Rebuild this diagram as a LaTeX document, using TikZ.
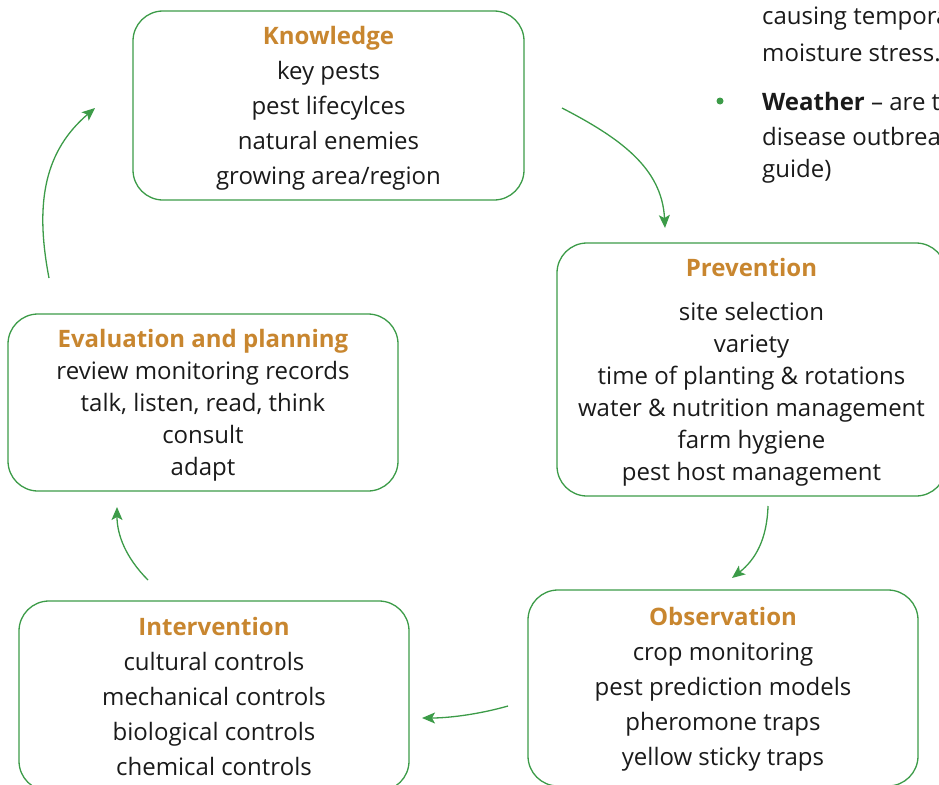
\documentclass[tikz,border=0pt]{standalone}
\usepackage{fontspec}
\setmainfont{Open Sans}
\usepackage{tikz}
\usetikzlibrary{arrows.meta}
\definecolor{ipmgreen}{HTML}{3C9B48}
\definecolor{ipmorange}{HTML}{C8862F}
\definecolor{ipmtext}{HTML}{1A1A1A}
\newcommand{\stagehead}[1]{\textbf{\color{ipmorange}#1}}

\begin{document}
\begin{tikzpicture}[x=1pt, y=-1pt,
    stage/.style={rectangle, draw=ipmgreen, line width=1.3pt, rounded corners=30pt,
      inner sep=0pt, align=center, text=ipmtext, text depth=0pt, font=\fontsize{24}{35}\selectfont},
    cycle/.style={draw=ipmgreen, line width=1.3pt, -{Stealth[length=13pt, width=11pt, inset=3pt]}},
    sidetext/.style={anchor=west, inner sep=0pt, text=ipmtext, font=\fontsize{24}{35}\selectfont}]

        \useasboundingbox (0,0) rectangle (939,784);
        \clip (0,0) rectangle (939,784);

        % Stages of the cycle
        \node[stage, minimum width=391pt, minimum height=189pt] (know) at (328.5,105.5)
        {\stagehead{Knowledge}\\ key pests\\ pest lifecylces\\ natural enemies\\ growing area/region};

        \node[stage, minimum width=389pt, minimum height=253pt, font=\fontsize{24}{32}\selectfont] (prevent) at (751.5,369.5)
        {\stagehead{Prevention}\\[12pt] site selection\\ variety\\ time of planting \& rotations\\ water \& nutrition management\\ farm hygiene\\ pest host management};

        \node[stage, minimum width=390pt, minimum height=196pt, text depth=4pt] (observe) at (723,688)
        {\stagehead{Observation}\\ crop monitoring\\ pest prediction models\\ pheromone traps\\ yellow sticky traps};

        \node[stage, minimum width=390pt, minimum height=190pt] (intervene) at (214,696)
        {\stagehead{Intervention}\\ cultural controls\\ mechanical controls\\ biological controls\\ chemical controls};

        \node[stage, minimum width=390pt, minimum height=177pt, font=\fontsize{24}{32}\selectfont] (evaluate) at (203,402.5)
        {\stagehead{Evaluation and planning}\\ review monitoring records\\ talk, listen, read, think\\ consult\\ adapt};

        % Arrow ends
        \coordinate (k-out) at (562,108);
        \coordinate (p-in) at (665,228);
        \coordinate (p-out) at (768,506);
        \coordinate (o-in) at (732,578);
        \coordinate (o-out) at (508,706);
        \coordinate (i-in) at (422,718);
        \coordinate (i-out) at (148,580);
        \coordinate (e-in) at (117,507);
        \coordinate (e-out) at (49,278);
        \coordinate (k-in) at (95,108);

        % Arrows
        \draw[cycle] (k-out) .. controls (620,138) and (662,168) .. (p-in);
        \draw[cycle] (p-out) .. controls (767,540) and (755,560) .. (o-in);
        \draw[cycle] (o-out) .. controls (480,714) and (450,718) .. (i-in);
        \draw[cycle] (i-out) .. controls (126,558) and (117,535) .. (e-in);
        \draw[cycle] (e-out) .. controls (34,200) and (46,150) .. (k-in);

        % Page text beside the cycle
        \node[sidetext] (side1) at (762,19) {causing temporary};
        \node[sidetext] (side2) at (762,53) {moisture stress.};
        \node[circle, fill=ipmgreen, inner sep=0pt, minimum size=7pt] (bullet) at (720,101) {};
        \node[sidetext] (side3) at (762,101) {\textbf{Weather} – are the};
        \node[sidetext] (side4) at (762,136) {disease outbreaks};
        \node[sidetext] (side5) at (762,171) {guide)};

        \end{tikzpicture}
\end{document}
